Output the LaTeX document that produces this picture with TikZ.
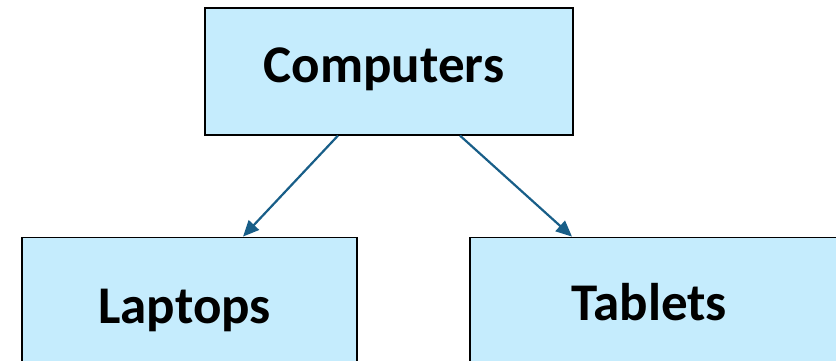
\documentclass[tikz,border=0pt]{standalone}
\usepackage{fontspec}
\setmainfont{Carlito}
\usetikzlibrary{arrows.meta, positioning}

\definecolor{boxfill}{RGB}{197,236,253}
\definecolor{linkblue}{RGB}{24,94,136}

\begin{document}
\begin{tikzpicture}[
  font=\fontsize{53}{62}\selectfont\bfseries,
  box/.style={draw=black, line width=1.2pt, fill=boxfill, inner sep=0pt,
              text height=35pt, text depth=12pt,
              execute at begin node={\hspace*{-10pt}}},
  arrow/.style={-{Triangle[length=16pt, width=14pt]}, draw=linkblue, line width=2.2pt},
]

% page frame
\useasboundingbox (-389pt,71.5pt) rectangle (447pt,-289.5pt);

% Top block
\node[box, minimum width=368pt, minimum height=127pt] (computers) at (0,0) {Computers};

% Child blocks
\node[box, minimum width=335pt, minimum height=150pt, below=101pt of computers.south, xshift=-199.5pt, anchor=north] (laptops) {Laptops};
\node[box, minimum width=368pt, minimum height=144pt, below=101pt of computers.south, xshift=265pt, anchor=north] (tablets) {Tablets};

% Arrows to children
\draw[arrow] ([xshift=-51pt]computers.south) -- ([xshift=53.5pt]laptops.north);
\draw[arrow] ([xshift=71pt]computers.south) -- ([xshift=-82pt]tablets.north);

\end{tikzpicture}
\end{document}
